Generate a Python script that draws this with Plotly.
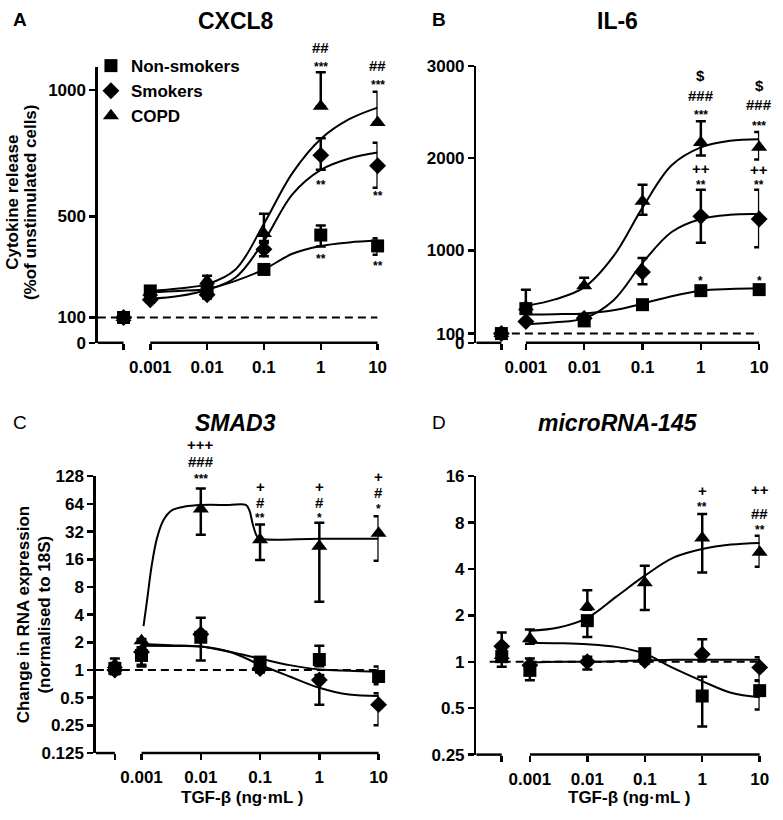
import math
import plotly.graph_objects as go

W, H = 783, 820
FONT = "Liberation Sans, Arial, Helvetica, sans-serif"

# ---------------- data ----------------
conc = [0.001, 0.01, 0.1, 1, 10]
conc_labels = ["0.001", "0.01", "0.1", "1", "10"]
fit_conc = [0.001, 0.00316, 0.01, 0.0316, 0.1, 0.316, 1, 3.16, 10]
group_names = ["Non-smokers", "Smokers", "COPD"]

# A: CXCL8 (% of unstimulated cells)
cxcl8_ctrl = [100, 100, 100]
cxcl8_ctrl_err = [8, 8, 8]
cxcl8_ns = [205, 212, 290, 426, 383]
cxcl8_ns_up = [10, 10, 12, 38, 30]
cxcl8_ns_dn = [10, 10, 12, 45, 35]
cxcl8_s = [170, 190, 370, 742, 700]
cxcl8_s_up = [10, 15, 25, 67, 91]
cxcl8_s_dn = [10, 15, 28, 58, 87]
cxcl8_copd = [200, 245, 432, 935, 871]
cxcl8_copd_up = [15, 20, 78, 135, 122]
cxcl8_copd_dn = [15, 20, 30, 0, 0]
cxcl8_ns_fit = [200, 205, 213, 245, 290, 352, 383, 397, 404]
cxcl8_s_fit = [174, 185, 209, 258, 402, 587, 684, 729, 752]
cxcl8_copd_fit = [205, 215, 232, 290, 471, 671, 806, 884, 930]
cxcl8_sig_x = [1, 1, 1, 1, 10, 10, 10, 10]
cxcl8_sig_y = [1167, 1102, 637, 343, 1098, 1032, 591, 316]
cxcl8_sig_text = ["##", "***", "**", "**", "##", "***", "**", "**"]

# B: IL-6
il6_ctrl = [100, 100, 100]
il6_ctrl_err = [20, 20, 20]
il6_ns = [370, 237, 413, 565, 576]
il6_ns_up = [205, 20, 20, 20, 20]
il6_ns_dn = [20, 20, 20, 20, 20]
il6_s = [230, 265, 766, 1370, 1341]
il6_s_up = [20, 20, 152, 289, 318]
il6_s_dn = [20, 20, 131, 286, 307]
il6_copd = [390, 618, 1535, 2171, 2118]
il6_copd_up = [20, 88, 177, 229, 166]
il6_copd_dn = [20, 0, 148, 141, 131]
il6_ns_fit = [307, 310, 318, 353, 424, 505, 565, 583, 590]
il6_s_fit = [202, 222, 265, 459, 865, 1200, 1341, 1387, 1394]
il6_copd_fit = [399, 470, 600, 936, 1465, 1924, 2118, 2189, 2206]
il6_sig_x = [1, 1, 1, 1, 1, 1, 10, 10, 10, 10, 10, 10]
il6_sig_y = [2895, 2683, 2506, 1885, 1747, 706, 2789, 2577, 2382, 1878, 1741, 706]
il6_sig_text = ["$", "###", "***", "++", "**", "*", "$", "###", "***", "++", "**", "*"]

# C: SMAD3 (fold change, log2 axis)
smad3_ctrl = [1.04, 1.0, 1.15]
smad3_ctrl_up = [0.15, 0.1, 0.18]
smad3_ctrl_dn = [0.1, 0.1, 0.1]
smad3_ns = [1.44, 2.27, 1.22, 1.30, 0.85]
smad3_ns_up = [0.15, 0.2, 0.15, 0.54, 0.24]
smad3_ns_dn = [0.3, 0.2, 0.15, 0.2, 0.15]
smad3_s = [1.57, 2.45, 1.04, 0.78, 0.42]
smad3_s_up = [0.2, 1.25, 0.1, 0.1, 0.14]
smad3_s_dn = [0.48, 1.18, 0.1, 0.36, 0.17]
smad3_copd = [2.08, 56.4, 26.1, 22.2, 30.7]
smad3_copd_up = [0.1, 37.6, 12.2, 17.8, 16.2]
smad3_copd_dn = [0.1, 26.9, 10.4, 16.66, 15.3]
smad3_ns_fit = [1.92, 1.86, 1.80, 1.57, 1.33, 1.13, 1.01, 0.98, 0.96]
smad3_s_fit = [1.84, 1.82, 1.80, 1.57, 1.14, 0.85, 0.64, 0.54, 0.52]
smad3_copd_fit_conc = [0.00108, 0.00123, 0.00148, 0.00182, 0.00234, 0.00324, 0.00537,
                       0.01, 0.03, 0.0575, 0.0661, 0.075, 0.0891, 0.102, 1, 10]
smad3_copd_fit = [3.0, 5.5, 13.5, 27, 42.5, 54.4, 59.9, 62.3, 62.3, 62.3, 54.4, 39,
                  28.3, 26.7, 26.7, 26.7]
smad3_sig_x = [0.01, 0.01, 0.01, 0.1, 0.1, 0.1, 1, 1, 1, 10, 10, 10]
smad3_sig_y = [282, 184.5, 128, 100, 66.7, 49, 100, 66.7, 49, 128, 85, 61.4]
smad3_sig_text = ["+++", "###", "***", "+", "#", "**", "+", "#", "*", "+", "#", "*"]

# D: microRNA-145
mir145_ctrl = [1.08, 1.26, 1.1]
mir145_ctrl_up = [0.1, 0.29, 0.1]
mir145_ctrl_dn = [0.15, 0.1, 0.1]
mir145_ns = [0.88, 1.85, 1.13, 0.60, 0.65]
mir145_ns_up = [0.1, 0.1, 0.05, 0.2, 0.1]
mir145_ns_dn = [0.12, 0.40, 0.05, 0.22, 0.16]
mir145_s = [0.95, 1.0, 1.02, 1.12, 0.92]
mir145_s_up = [0.1, 0.08, 0.05, 0.28, 0.15]
mir145_s_dn = [0.1, 0.11, 0.05, 0.1, 0.16]
mir145_copd = [1.41, 2.28, 3.26, 6.35, 5.14]
mir145_copd_up = [0.21, 0.63, 0.94, 2.75, 1.44]
mir145_copd_dn = [0.1, 0.1, 1.09, 2.55, 1.0]
mir145_ns_fit = [1.33, 1.32, 1.30, 1.25, 1.13, 0.91, 0.75, 0.63, 0.59]
mir145_s_fit = [0.99, 1.0, 1.0, 1.01, 1.02, 1.03, 1.03, 1.03, 1.03]
mir145_copd_fit = [1.59, 1.67, 1.93, 2.64, 3.62, 4.74, 5.39, 5.76, 5.9]
mir145_sig_x = [1, 1, 10, 10, 10]
mir145_sig_y = [13.0, 10.6, 13.2, 9.13, 7.5]
mir145_sig_text = ["+", "**", "++", "##", "**"]

# ---------------- panel layout ----------------
panels = [
    dict(xa="x", ya="y", letter="A", bold_letter=True, title="CXCL8", italic=False,
         px=(99, 382), py=(59.5, 341.7), xleft=-3.922, xctrl=-3.47, dash_start=-3.922,
         ylog=False, yrange=(0, 1090), yticks=[0, 100, 500, 1000], ref=100,
         ctrl=(cxcl8_ctrl, [cxcl8_ctrl_err] * 3, [cxcl8_ctrl_err] * 3),
         groups=[(cxcl8_ns, cxcl8_ns_up, cxcl8_ns_dn, fit_conc, cxcl8_ns_fit),
                 (cxcl8_s, cxcl8_s_up, cxcl8_s_dn, fit_conc, cxcl8_s_fit),
                 (cxcl8_copd, cxcl8_copd_up, cxcl8_copd_dn, fit_conc, cxcl8_copd_fit)],
         sig=(cxcl8_sig_x, cxcl8_sig_y, cxcl8_sig_text), xtitle=None),
    dict(xa="x2", ya="y2", letter="B", bold_letter=True, title="IL-6", italic=False,
         px=(482, 768), py=(58.3, 341.7), xleft=-3.847, xctrl=-3.42, dash_start=-3.24,
         ylog=False, yrange=(0, 3000), yticks=[0, 100, 1000, 2000, 3000], ref=100,
         ctrl=(il6_ctrl, [il6_ctrl_err] * 3, [il6_ctrl_err] * 3),
         groups=[(il6_ns, il6_ns_up, il6_ns_dn, fit_conc, il6_ns_fit),
                 (il6_s, il6_s_up, il6_s_dn, fit_conc, il6_s_fit),
                 (il6_copd, il6_copd_up, il6_copd_dn, fit_conc, il6_copd_fit)],
         sig=(il6_sig_x, il6_sig_y, il6_sig_text), xtitle=None),
    dict(xa="x3", ya="y3", letter="C", bold_letter=False, title="SMAD3", italic=True,
         px=(97, 383), py=(478.3, 761.7), xleft=-3.77, xctrl=-3.45, dash_start=-3.77,
         ylog=True, yrange=(0.125, 128),
         yticks=[0.125, 0.25, 0.5, 1, 2, 4, 8, 16, 32, 64, 128], ref=1,
         ctrl=(smad3_ctrl, smad3_ctrl_up, smad3_ctrl_dn),
         groups=[(smad3_ns, smad3_ns_up, smad3_ns_dn, fit_conc, smad3_ns_fit),
                 (smad3_s, smad3_s_up, smad3_s_dn, fit_conc, smad3_s_fit),
                 (smad3_copd, smad3_copd_up, smad3_copd_dn, smad3_copd_fit_conc, smad3_copd_fit)],
         sig=(smad3_sig_x, smad3_sig_y, smad3_sig_text), xtitle=(245, 807)),
    dict(xa="x4", ya="y4", letter="D", bold_letter=False, title="microRNA-145", italic=True,
         px=(482, 768.5), py=(478.3, 763.3), xleft=-3.93, xctrl=-3.49, dash_start=-3.70,
         ylog=True, yrange=(0.25, 16), yticks=[0.25, 0.5, 1, 2, 4, 8, 16], ref=1,
         ctrl=(mir145_ctrl, mir145_ctrl_up, mir145_ctrl_dn),
         groups=[(mir145_ns, mir145_ns_up, mir145_ns_dn, fit_conc, mir145_ns_fit),
                 (mir145_s, mir145_s_up, mir145_s_dn, fit_conc, mir145_s_fit),
                 (mir145_copd, mir145_copd_up, mir145_copd_dn, fit_conc, mir145_copd_fit)],
         sig=(mir145_sig_x, mir145_sig_y, mir145_sig_text), xtitle=(636, 807)),
]

symbols = ["square", "diamond", "triangle-up"]
msizes = [13, 13, 14]

fig = go.Figure()
layout = dict(
    width=W, height=H, margin=dict(l=0, r=0, t=0, b=0),
    paper_bgcolor="white", plot_bgcolor="white",
    font=dict(family=FONT, size=17, color="black"),
    showlegend=True, hovermode=False,
    legend=dict(x=92 / W, y=1 - 40 / H, xanchor="left", yanchor="top",
                bgcolor="rgba(0,0,0,0)", font=dict(size=17, weight="bold", family=FONT),
                itemwidth=30, tracegroupgap=0),
)
annotations = []
shapes = []


def px2x(p):
    return p / W


def px2y(p):
    return 1 - p / H


for pi, P in enumerate(panels):
    xa, ya = P["xa"], P["ya"]
    xkey = "xaxis" + xa[1:]
    ykey = "yaxis" + ya[1:]
    xl, xc = P["xleft"], P["xctrl"]
    ctrl_x = 10 ** xc
    yd0, yd1 = px2y(P["py"][1]), px2y(P["py"][0])

    layout[xkey] = dict(
        type="log", range=[xl, 1], domain=[px2x(P["px"][0]), px2x(P["px"][1])],
        anchor=ya, showline=False, showgrid=False, zeroline=False, fixedrange=True,
        tickvals=[ctrl_x] + conc, ticktext=[""] + conc_labels,
        ticks="outside", ticklen=6, tickwidth=2.5, tickcolor="black",
        tickfont=dict(size=17, weight="bold", family=FONT), ticklabelstandoff=3,
    )
    if P["ylog"]:
        yr = [math.log10(P["yrange"][0]), math.log10(P["yrange"][1])]
        ytext = [("%g" % v) for v in P["yticks"]]
    else:
        yr = list(P["yrange"])
        ytext = [str(v) for v in P["yticks"]]
    layout[ykey] = dict(
        type="log" if P["ylog"] else "linear", range=yr,
        domain=[yd0, yd1], anchor=xa, fixedrange=True,
        showline=True, linewidth=2.5, linecolor="black", showgrid=False, zeroline=False,
        tickvals=P["yticks"], ticktext=ytext, ticks="outside", ticklen=6,
        tickwidth=2.5, tickcolor="black",
        tickfont=dict(size=17, weight="bold", family=FONT),
    )

    def y_to_paper(v, yr=yr, ylog=P["ylog"], yd0=yd0, yd1=yd1):
        a = math.log10(v) if ylog else v
        return yd0 + (a - yr[0]) / (yr[1] - yr[0]) * (yd1 - yd0)

    # broken x-axis line: control segment + concentration segment
    frac_ctrl = (xc - xl) / (1 - xl)
    frac_first = (-3 - xl) / (1 - xl)
    for a, b in [(0, frac_ctrl), (frac_first, 1)]:
        shapes.append(dict(type="line", xref=xa + " domain", yref=ya + " domain",
                           x0=a, x1=b, y0=0, y1=0, line=dict(color="black", width=2.5)))

    # dashed reference line (unstimulated level)
    fig.add_trace(go.Scatter(
        x=[10 ** P["dash_start"], 10], y=[P["ref"], P["ref"]], mode="lines",
        line=dict(color="black", width=2, dash="8px,5px"), xaxis=xa, yaxis=ya,
        showlegend=False, hoverinfo="skip"))

    # fitted curves
    for gi, g in enumerate(P["groups"]):
        fig.add_trace(go.Scatter(
            x=g[3], y=g[4], mode="lines", line=dict(color="black", width=2, shape="spline"),
            xaxis=xa, yaxis=ya, showlegend=False, hoverinfo="skip"))

    # data points (COPD first so squares end on top)
    cv, cu, cd = P["ctrl"]
    for gi in [2, 1, 0]:
        g = P["groups"][gi]
        fig.add_trace(go.Scatter(
            x=[ctrl_x] + conc, y=[cv[gi]] + g[0], mode="markers",
            name=group_names[gi], legendrank=gi + 1, showlegend=(pi == 0),
            marker=dict(symbol=symbols[gi], size=msizes[gi], color="black",
                        line=dict(width=0)),
            error_y=dict(type="data", symmetric=False, array=[cu[gi]] + g[1],
                         arrayminus=[cd[gi]] + g[2], thickness=2.5, width=5, color="black"),
            cliponaxis=False, xaxis=xa, yaxis=ya))

    # significance symbols
    sx, sy, st = P["sig"]
    for x, y, t in zip(sx, sy, st):
        star = "*" in t
        annotations.append(dict(
            x=math.log10(x), y=y_to_paper(y), xref=xa, yref="paper",
            text=t, showarrow=False, xanchor="center", yanchor="middle",
            yshift=-3 if star else 0,
            font=dict(size=12 if star else 15, weight="bold", family=FONT)))

    # panel letter + title
    annotations.append(dict(
        x=px2x(20 if pi % 2 == 0 else 444), y=px2y(11 if pi < 2 else 423.5),
        xref="paper", yref="paper", text=P["letter"], showarrow=False,
        xanchor="center", yanchor="middle",
        font=dict(size=19, weight="bold" if P["bold_letter"] else "normal", family=FONT)))
    annotations.append(dict(
        x=(px2x(P["px"][0]) + px2x(P["px"][1])) / 2 - (2 / W if pi % 2 == 0 else 0),
        y=px2y(12 if pi < 2 else 423.5), xref="paper", yref="paper",
        text=P["title"], showarrow=False, xanchor="center", yanchor="middle",
        font=dict(size=23, weight="bold", style="italic" if P["italic"] else "normal",
                  family=FONT)))
    if P["xtitle"]:
        annotations.append(dict(
            x=px2x(P["xtitle"][0]), y=px2y(P["xtitle"][1]), xref="paper", yref="paper",
            text="TGF-β (ng·mL )", showarrow=False, xanchor="center", yanchor="middle",
            font=dict(size=17, weight="bold", family=FONT)))

# y-axis titles (two rotated lines each)
for text, xp, yp in [("Cytokine release", 12.5, 198), ("(%of unstimulated cells)", 31, 198),
                     ("Change in RNA expression", 24, 620), ("(normalised to 18S)", 45.5, 620)]:
    annotations.append(dict(
        x=px2x(xp), y=px2y(yp), xref="paper", yref="paper", text=text, textangle=-90,
        showarrow=False, xanchor="center", yanchor="middle",
        font=dict(size=17, weight="bold", family=FONT)))

layout["annotations"] = annotations
layout["shapes"] = shapes
fig.update_layout(**layout)
fig.write_html(
    "out.html",
    config={"displayModeBar": False, "staticPlot": True},
    post_script="document.body.style.margin='0';document.body.style.padding='0';"
                "document.body.style.overflow='hidden';",
)
